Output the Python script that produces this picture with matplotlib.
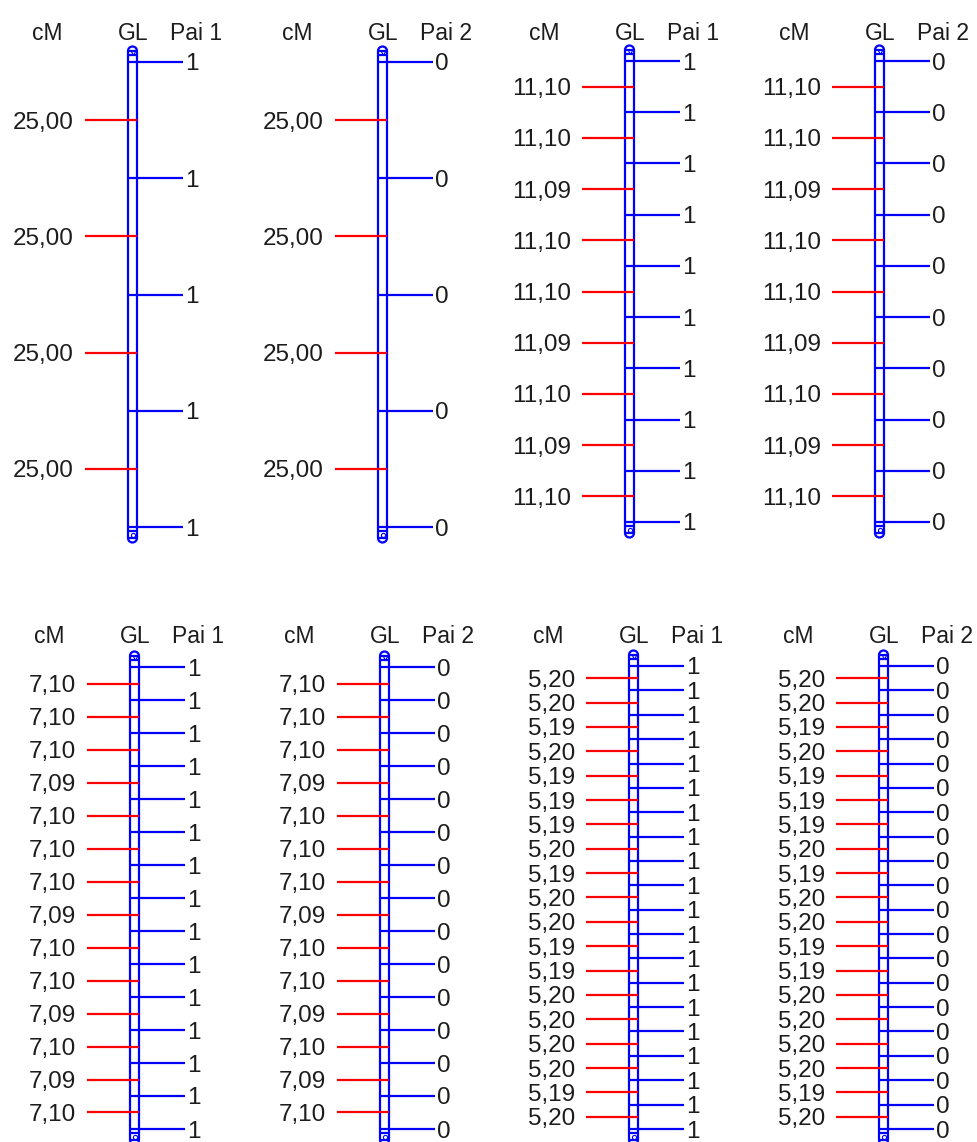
import numpy as np
import matplotlib
matplotlib.use("Agg")
import matplotlib.pyplot as plt
from matplotlib.patches import Arc

plt.rcParams['font.family'] = ['Liberation Sans', 'DejaVu Sans']

# Interval lengths (cM) between consecutive markers of each linkage group
intervals_p1 = [25.00, 25.00, 25.00, 25.00]
intervals_p2 = [25.00, 25.00, 25.00, 25.00]
intervals_p3 = [11.10, 11.10, 11.09, 11.10, 11.10, 11.09, 11.10, 11.09, 11.10]
intervals_p4 = [11.10, 11.10, 11.09, 11.10, 11.10, 11.09, 11.10, 11.09, 11.10]
intervals_p5 = [7.10, 7.10, 7.10, 7.09, 7.10, 7.10, 7.10, 7.09, 7.10, 7.10,
                7.09, 7.10, 7.09, 7.10]
intervals_p6 = [7.10, 7.10, 7.10, 7.09, 7.10, 7.10, 7.10, 7.09, 7.10, 7.10,
                7.09, 7.10, 7.09, 7.10]
intervals_p7 = [5.20, 5.20, 5.19, 5.20, 5.19, 5.19, 5.19, 5.20, 5.19, 5.20,
                5.20, 5.19, 5.19, 5.20, 5.20, 5.20, 5.20, 5.19, 5.20]
intervals_p8 = [5.20, 5.20, 5.19, 5.20, 5.19, 5.19, 5.19, 5.20, 5.19, 5.20,
                5.20, 5.19, 5.19, 5.20, 5.20, 5.20, 5.20, 5.19, 5.20]

# Marker genotype scores per parent
scores_p1 = [1] * 5
scores_p2 = [0] * 5
scores_p3 = [1] * 10
scores_p4 = [0] * 10
scores_p5 = [1] * 15
scores_p6 = [0] * 15
scores_p7 = [1] * 20
scores_p8 = [0] * 20

parent_titles = ["Pai 1", "Pai 2", "Pai 1", "Pai 2", "Pai 1", "Pai 2", "Pai 1", "Pai 2"]

W, H = 977, 1142
BLUE = '#0000ff'
RED = '#ff0000'
TXT = '#1c1c1c'
FS_HEAD = 16.5
FS_NUM = 17.5
LW = 1.6

# layout (pixels): bar left edge, first/last marker y, header y
layout = [
    dict(xl=128, y0=62, y1=527, hy=31),
    dict(xl=378, y0=62, y1=527, hy=31),
    dict(xl=625, y0=61, y1=522, hy=31),
    dict(xl=875, y0=61, y1=522, hy=31),
    dict(xl=130, y0=667, y1=1129, hy=634),
    dict(xl=380, y0=667, y1=1129, hy=634),
    dict(xl=629, y0=666, y1=1129, hy=634),
    dict(xl=879, y0=666, y1=1129, hy=634),
]

panels = [
    (intervals_p1, scores_p1), (intervals_p2, scores_p2),
    (intervals_p3, scores_p3), (intervals_p4, scores_p4),
    (intervals_p5, scores_p5), (intervals_p6, scores_p6),
    (intervals_p7, scores_p7), (intervals_p8, scores_p8),
]

fig = plt.figure(figsize=(W / 100, H / 100), dpi=100)

for (intervals, scores), geo, ptitle in zip(panels, layout, parent_titles):
    ax = fig.add_axes([0, 0, 1, 1])
    ax.axis('off')
    ax.patch.set_alpha(0)
    total = float(np.sum(intervals))
    s = (geo['y1'] - geo['y0']) / total        # pixels per cM
    ax.set_xlim(0, W)
    ax.set_ylim((H - geo['y0']) / s, (0 - geo['y0']) / s)

    pos = np.concatenate([[0.0], np.cumsum(intervals)])
    mids = (pos[:-1] + pos[1:]) / 2
    xl = geo['xl']
    xr = xl + 9
    px = lambda p: p / s                        # pixel offset -> cM

    # chromosome bar
    ax.vlines([xl, xr], -px(11), total + px(11), color=BLUE, lw=LW)
    ax.hlines([-px(11), -px(7)], xl, xr, color=BLUE, lw=LW)
    ax.hlines([total + px(4), total + px(11)], xl, xr, color=BLUE, lw=LW)
    ax.add_patch(Arc(((xl + xr) / 2, -px(11)), 9, px(9), theta1=180, theta2=360,
                     color=BLUE, lw=LW))
    ax.add_patch(Arc(((xl + xr) / 2, total + px(11)), 9, px(9), theta1=0, theta2=180,
                     color=BLUE, lw=LW))
    ax.plot([(xl + xr) / 2], [-px(9)], marker='v', ms=3, color=BLUE, mew=0.8,
            mfc='none')
    ax.plot([(xl + xr) / 2], [total + px(8)], marker='o', ms=3, color=BLUE, mew=0.8,
            mfc='none')

    # markers (right) and intervals (left)
    ax.hlines(pos, xl, xr + 46, color=BLUE, lw=LW)
    ax.hlines(mids, xl - 43, xr, color=RED, lw=LW)
    for p, sc in zip(pos, scores):
        ax.text(xr + 48, p, f"{sc}", ha='left', va='center_baseline', fontsize=FS_NUM,
                color=TXT)
    for m, d in zip(mids, intervals):
        ax.text(xl - 54, m, f"{d:.2f}".replace('.', ','), ha='right',
                va='center_baseline', fontsize=FS_NUM, color=TXT)

    # headers
    hy = (geo['hy'] - geo['y0']) / s
    ax.text(xl - 81, hy, "cM", ha='center', va='center_baseline', fontsize=FS_HEAD,
            color=TXT)
    ax.text(xl + 5, hy, "GL", ha='center', va='center_baseline', fontsize=FS_HEAD,
            color=TXT)
    ax.text(xl + 68, hy, ptitle, ha='center', va='center_baseline', fontsize=FS_HEAD,
            color=TXT)

fig.savefig("out.png", dpi=100, facecolor='white')
